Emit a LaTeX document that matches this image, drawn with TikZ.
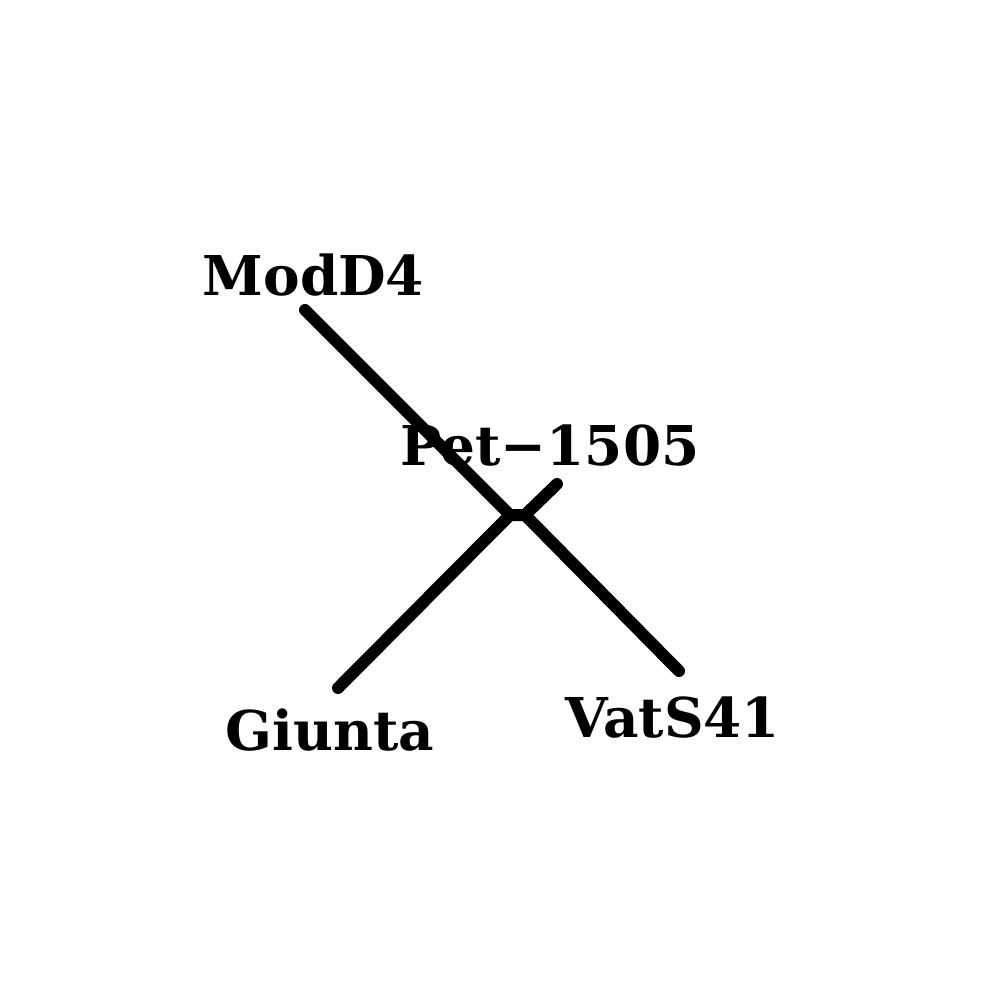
\documentclass[tikz,border=0pt]{standalone}
\usepackage{fontspec}
\newfontfamily\lblfont{DejaVu Serif}
\begin{document}
\begin{tikzpicture}[x=0.01cm,y=-0.01cm,
  lbl/.style={anchor=base west,inner sep=0pt,font=\lblfont\fontsize{15.6}{18}\selectfont\bfseries},
  branch/.style={line width=0.12cm,line cap=round,line join=round}]
\useasboundingbox (0,0) rectangle (1000,1000);
\coordinate (j1) at (510,515);
\coordinate (j2) at (525,515);
\coordinate (mod) at (305,310);
\coordinate (pet) at (557,484);
\coordinate (giu) at (338,688);
\coordinate (vat) at (679,671);
\draw[branch] (mod) -- (j1) -- (j2) -- (vat);
\draw[branch] (giu) -- (j1);
\draw[branch] (j2) -- (pet);
\node[lbl] (tmod) at (202,295) {ModD4};
\node[lbl] (tpet) at (400,465) {Pet−1505};
\node[lbl] (tgiu) at (225,750) {Giunta};
\node[lbl] (tvat) at (565,737) {VatS41};
\end{tikzpicture}
\end{document}
